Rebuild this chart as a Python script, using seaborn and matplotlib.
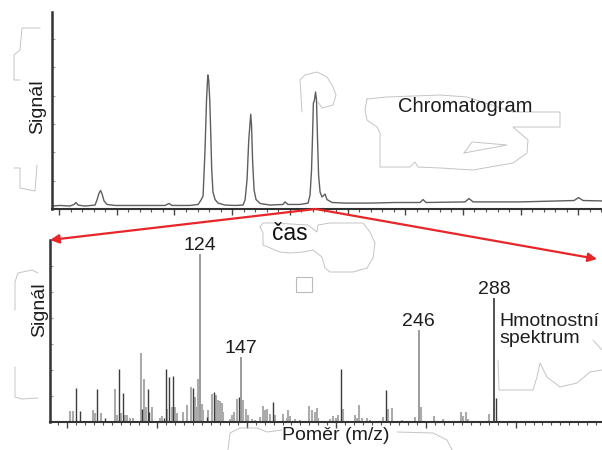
import numpy as np
import pandas as pd
import matplotlib.pyplot as plt
import seaborn as sns
from matplotlib.ticker import MultipleLocator
from matplotlib.patches import Rectangle, ConnectionPatch
from matplotlib.lines import Line2D

# Chromatogram trace (time in min, signal in % of axis height)
chrom_time = [-0.61, 0.09, 0.95, 1.30, 1.47, 1.65, 2.25, 3.12, 3.29, 3.47, 3.60, 3.73, 3.90, 4.16,
              4.85, 7.02, 9.19, 9.53, 9.79, 11.35, 12.05, 12.31, 12.48, 12.65, 12.78, 12.89, 12.97,
              13.06, 13.15, 13.23, 13.34, 13.52, 13.78, 14.38, 15.25, 15.94, 16.12, 16.29, 16.44,
              16.61, 16.68, 16.77, 16.90, 17.07, 17.42, 18.28, 19.41, 19.58, 19.84, 20.88, 21.58,
              21.75, 21.88, 21.97, 22.04, 22.12, 22.23, 22.31, 22.40, 22.49, 22.62, 22.79, 23.05,
              23.22, 23.66, 24.78, 26.95, 29.12, 31.28, 31.54, 31.80, 35.18, 35.53, 35.88, 39.95,
              44.63, 45.02, 45.41, 47.05]
chrom_signal = [1.5, 1.8, 1.5, 2.3, 3.3, 2.0, 1.5, 2.0, 4.6, 8.1, 9.4, 7.6, 4.1, 2.3,
                1.8, 1.8, 1.8, 2.8, 1.8, 1.8, 2.3, 4.6, 6.6, 29.9, 55.3, 68.0, 65.5,
                55.3, 37.6, 19.8, 8.6, 4.8, 3.0, 2.0, 1.8, 2.0, 4.6, 14.7, 35.0,
                48.1, 42.6, 24.9, 9.6, 4.8, 2.8, 2.0, 2.3, 3.6, 2.3, 2.3, 3.0,
                7.1, 19.8, 37.6, 53.8, 54.8, 59.4, 55.3, 35.0, 17.3, 8.6, 6.1, 7.6,
                4.8, 3.3, 3.0, 3.0, 3.3, 3.3, 4.8, 3.3, 3.6, 5.3, 3.6, 3.6,
                4.3, 5.8, 4.3, 4.1]
selected_time = 22.23  # peak whose spectrum is shown

# Mass spectrum: minor fragment ions
minor_mz = [51.5, 53.0, 64.5, 65.4, 68.6, 76.6, 77.5, 79.8, 82.2, 83.1, 85.0, 86.6, 90.9, 92.9,
            93.9, 97.1, 101.7, 102.6, 105.8, 108.2, 110.1, 111.0, 114.7, 116.6, 119.0, 121.2,
            122.2, 123.1, 124.9, 125.7, 128.6, 130.9, 132.9, 133.9, 135.2, 136.1, 137.0, 140.7,
            142.0, 143.1, 144.5, 148.2, 149.5, 150.9, 152.8, 154.7, 157.5, 159.0, 160.3, 161.2,
            163.0, 165.8, 170.5, 172.4, 173.3, 174.2, 177.0, 179.8, 185.0, 186.3, 188.1, 189.4,
            190.0, 196.5, 198.4, 199.7, 201.1, 203.6, 210.5, 211.7, 212.9, 214.2, 217.0, 218.8,
            226.2, 228.7, 230.9, 236.5, 243.9, 247.0, 254.7, 259.7, 269.6, 270.5, 272.4, 273.3,
            282.6, 285.4]
minor_int = [6.5, 6.5, 7.1, 5.2, 5.2, 19.5, 4.2, 5.2, 4.2, 4.2, 2.2, 2.2, 41.2, 25.4,
             9.1, 8.7, 2.2, 3.6, 7.6, 8.7, 9.1, 5.2, 6.1, 9.9, 20.8, 14.9,
             8.9, 25.8, 10.9, 7.0, 7.0, 16.9, 15.9, 12.9, 12.3, 11.5, 6.0, 2.0,
             4.0, 6.0, 13.5, 13.3, 8.0, 4.0, 2.0, 1.0, 3.0, 9.8, 7.0, 8.0,
             5.0, 4.0, 5.0, 2.6, 7.4, 3.4, 2.0, 1.0, 9.8, 7.0, 6.0, 8.6,
             2.6, 1.6, 3.6, 2.6, 4.2, 7.9, 4.0, 2.2, 10.1, 2.2, 2.6, 1.0,
             3.0, 7.9, 8.5, 1.0, 3.0, 8.9, 3.6, 1.6, 5.8, 3.4, 5.8, 2.0,
             0.8, 4.8]

# Mass spectrum: stronger fragment ions
major_mz = [54.8, 57.1, 66.7, 71.0, 78.7, 80.9, 91.8, 94.8, 95.6, 103.9, 104.9, 106.9, 109.1,
            120.3, 127.7, 132.0, 145.8, 164.6, 202.7, 227.8, 289.0]
major_int = [20.1, 6.7, 19.6, 2.2, 31.5, 17.4, 7.6, 19.5, 6.1, 2.2, 31.4, 26.6, 27.4,
             20.5, 3.0, 17.7, 14.9, 12.1, 31.4, 18.9, 14.3]

# Labelled ions
label_mz = [124, 147, 246, 288]
label_int = [100.0, 38.7, 54.8, 73.8]

W, H = 602, 450


def fpos(x, y):
    # pixel position (top-left origin) -> figure fraction
    return x / W, 1 - y / H


sns.set_style("white")
plt.rcParams["font.family"] = ["Liberation Sans", "DejaVu Sans"]

fig = plt.figure(figsize=(W / 100, H / 100), dpi=100)
ax1 = fig.add_axes([52 / W, 1 - 209 / H, 550 / W, 197 / H])
ax2 = fig.add_axes([50 / W, 1 - 422 / H, 552 / W, 182 / H])

# faint outlines left over from erased labels in the source image
outlines = [
    [(40, 28), (22, 28), (20, 50), (14, 55), (14, 80), (20, 80)],
    [(14, 168), (20, 168), (20, 188), (35, 191), (37, 165)],
    [(302, 112), (300, 80), (305, 75), (317, 72), (327, 77), (333, 87), (336, 95),
     (333, 105), (322, 108), (318, 102)],
    [(367, 99), (387, 97), (440, 95), (467, 97), (513, 112), (560, 112), (560, 127),
     (513, 127), (528, 140), (527, 153), (513, 163), (473, 170), (440, 168), (418, 167),
     (415, 162), (410, 167), (380, 167), (380, 133), (377, 127), (367, 120), (365, 110), (367, 99)],
    [(464, 153), (472, 142), (507, 145), (464, 153)],
    [(260, 227), (263, 223), (273, 223), (308, 225), (317, 232), (318, 225), (330, 223),
     (363, 223), (370, 232), (375, 243), (373, 258), (367, 268), (353, 272), (330, 272),
     (325, 268), (322, 257), (313, 250), (303, 252), (290, 253), (280, 252), (263, 245),
     (263, 233), (260, 227)],
    [(38, 273), (32, 270), (18, 273), (15, 282), (15, 310)],
    [(15, 367), (15, 397), (22, 399), (38, 398)],
    [(593, 340), (602, 350)],
    [(498, 360), (499, 390), (533, 390), (537, 377), (540, 363), (547, 377), (560, 387),
     (577, 383), (590, 372), (602, 370)],
    [(228, 450), (230, 433), (240, 428), (257, 428), (267, 432), (282, 430)],
    [(397, 432), (433, 433), (447, 440), (452, 450)],
]
for pts in outlines:
    xs, ys = zip(*[fpos(x, y) for x, y in pts])
    fig.add_artist(Line2D(xs, ys, transform=fig.transFigure, color="#c4c4c4", lw=0.7))

# --- chromatogram ---
chrom = pd.DataFrame({"time": chrom_time, "signal": chrom_signal})
sns.lineplot(data=chrom, x="time", y="signal", ax=ax1, color="#5e5e5e", lw=1.0,
             estimator=None, sort=False)
ax1.set_xlim(-0.61, 47.05)
ax1.set_ylim(0, 100)

# --- mass spectrum ---
ax2.vlines(minor_mz, 0, minor_int, color="#ababab", lw=1.5)
ax2.vlines(major_mz, 0, major_int, color="#3c3c3c", lw=1.0)
ax2.vlines(label_mz[:3], 0, label_int[:3], color="#8a8a8a", lw=1.2)
ax2.vlines(label_mz[3:], 0, label_int[3:], color="#333333", lw=1.2)
for mz, val in zip(label_mz, label_int):
    ax2.annotate(str(mz), (mz, val), xytext=(0, 3), textcoords="offset points",
                 ha="center", va="baseline", fontsize=14, color="#1e1e1e")
ax2.set_xlim(40.3, 348.2)
ax2.set_ylim(0, 108.3)

for ax in (ax1, ax2):
    ax.set_xlabel("")
    ax.set_ylabel("")
    ax.set_xticklabels([])
    ax.set_yticklabels([])
    for s in ("top", "right"):
        ax.spines[s].set_visible(False)
    ax.spines["left"].set_color("#333333")
    ax.spines["left"].set_linewidth(1.8)
    ax.spines["bottom"].set_color("#333333")
    ax.spines["bottom"].set_linewidth(1.5)
    ax.tick_params(axis="x", which="major", direction="out", length=4, width=1,
                   color="#444444", bottom=True)
    ax.tick_params(axis="x", which="minor", direction="out", length=2.5, width=0.8,
                   color="#555555", bottom=True)
    ax.tick_params(axis="y", which="major", direction="in", length=2.5, width=0.8,
                   color="#999999", left=True)
    ax.patch.set_alpha(0)

ax1.xaxis.set_major_locator(MultipleLocator(5))
ax1.xaxis.set_minor_locator(MultipleLocator(1))
ax1.yaxis.set_major_locator(MultipleLocator(14.4))
ax2.xaxis.set_major_locator(MultipleLocator(50))
ax2.xaxis.set_minor_locator(MultipleLocator(5))
ax2.yaxis.set_major_locator(MultipleLocator(15.5))

# --- texts ---
txt = dict(color="#1e1e1e", fontsize=14)
fig.text(*fpos(38, 107), "Signál", rotation=90, ha="center", va="center", **txt)
fig.text(*fpos(40, 310), "Signál", rotation=90, ha="center", va="center", **txt)
fig.text(*fpos(465, 106), "Chromatogram", ha="center", va="center", color="#1e1e1e", fontsize=14.5)
fig.text(*fpos(290, 234), "čas", ha="center", va="center", color="#111111", fontsize=16.5,
         fontweight="medium")
fig.text(*fpos(336, 435), "Poměr (m/z)", ha="center", va="center", **txt)
fig.text(*fpos(499, 330), "Hmotnostní\nspektrum", ha="left", va="center",
         linespacing=1.0, **txt)

# small square marker
fig.add_artist(Rectangle(fpos(296, 292), 16 / W, 15 / H, transform=fig.transFigure,
                         fill=False, edgecolor="#bbbbbb", lw=0.8))

# --- red arrows from the selected peak to the spectrum ---
red = "#e8262a"
arr_left = ConnectionPatch(xyA=(selected_time, 0), coordsA=ax1.transData,
                           xyB=(0, 1), coordsB=ax2.transAxes,
                           arrowstyle="-|>", mutation_scale=13, color=red, lw=1.6)
fig.add_artist(arr_left)
arr_right = ConnectionPatch(xyA=(selected_time, 0), coordsA=ax1.transData,
                            xyB=fpos(597, 259), coordsB=fig.transFigure,
                            arrowstyle="-|>", mutation_scale=13, color=red, lw=1.6)
fig.add_artist(arr_right)

fig.savefig("out.png", dpi=100)
